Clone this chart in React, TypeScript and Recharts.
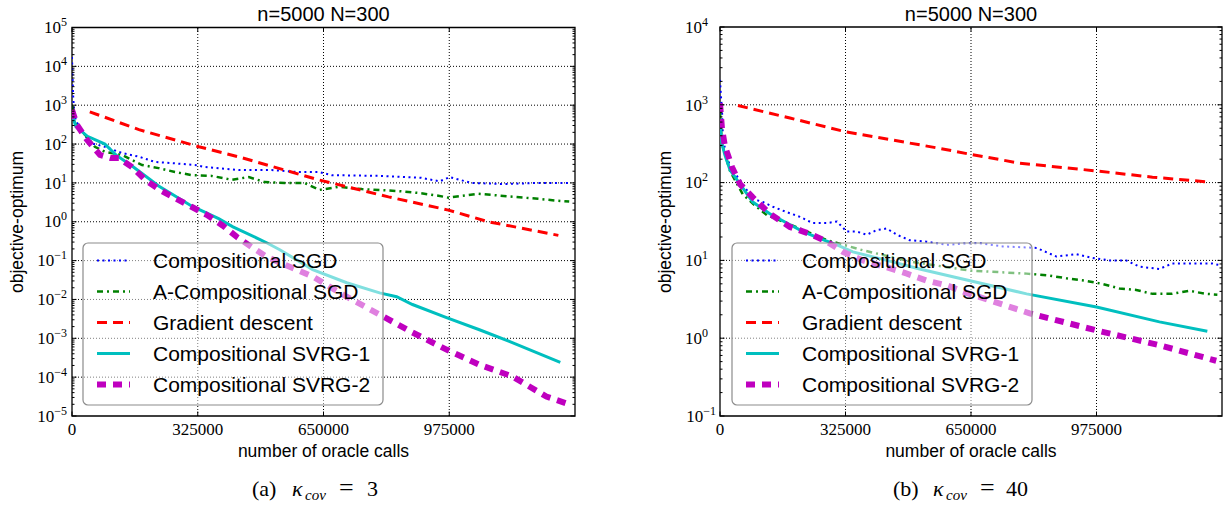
import { LineChart, Line, XAxis, YAxis, ReferenceLine, ReferenceArea } from "recharts";

// each point: [number of oracle calls, log10(objective - optimum)]
type Pt = [number, number];

const seriesNames = [
  "Compositional SGD",
  "A-Compositional SGD",
  "Gradient descent",
  "Compositional SVRG-1",
  "Compositional SVRG-2",
];

// panel (a), kappa_cov = 3
const aCompSgd: Pt[] = [
  [0, 4.24], [2600, 3.3], [5200, 2.9], [10000, 2.6], [46000, 2.03], [85000, 1.93],
  [129000, 1.77], [175000, 1.67], [214000, 1.54], [258000, 1.51], [318000, 1.46],
  [343000, 1.41], [431000, 1.33], [516000, 1.33], [586000, 1.28], [637000, 1.28],
  [671000, 1.2], [800000, 1.18], [903000, 1.13], [950000, 1.04], [976000, 1.15],
  [1032000, 1.0], [1118000, 0.97], [1205000, 1.0], [1290000, 1.0],
];
const aACompSgd: Pt[] = [
  [0, 3.0], [5000, 2.6], [10000, 2.5], [46000, 2.1], [59000, 1.93], [85000, 1.8],
  [129000, 1.72], [181000, 1.46], [224000, 1.38], [266000, 1.28], [310000, 1.2],
  [361000, 1.18], [413000, 1.08], [457000, 1.15], [498000, 1.02], [550000, 1.0],
  [601000, 1.0], [640000, 0.82], [689000, 0.9], [749000, 0.84], [844000, 0.79],
  [896000, 0.74], [947000, 0.67], [973000, 0.62], [1050000, 0.72], [1143000, 0.64],
  [1205000, 0.59], [1257000, 0.54], [1285000, 0.52],
];
const aGradDesc: Pt[] = [
  [46000, 2.83], [173000, 2.37], [328000, 1.93], [431000, 1.67], [637000, 1.08],
  [818000, 0.64], [973000, 0.3], [1076000, 0.0], [1257000, -0.35],
];
const aSvrg1: Pt[] = [
  [0, 2.8], [10000, 2.45], [40000, 2.2], [85000, 2.0], [116000, 1.7], [157000, 1.42],
  [224000, 0.92], [310000, 0.4], [379000, 0.08], [416000, -0.13], [503000, -0.54],
  [537000, -0.72], [622000, -1.23], [710000, -1.57], [795000, -1.83], [839000, -1.93],
  [880000, -2.13], [968000, -2.47], [1053000, -2.78], [1138000, -3.11], [1262000, -3.62],
];
const aSvrg2: Pt[] = [
  [0, 2.88], [12900, 2.49], [38700, 2.11], [72300, 1.72], [100000, 1.64], [121000, 1.64],
  [155000, 1.41], [189000, 1.08], [227000, 0.82], [266000, 0.61], [310000, 0.38],
  [348000, 0.18], [390000, -0.1], [426000, -0.39], [467000, -0.67], [503000, -0.9],
  [537000, -1.05], [622000, -1.41], [710000, -1.93], [795000, -2.39], [880000, -2.85],
  [968000, -3.29], [1053000, -3.68], [1138000, -3.98], [1226000, -4.5], [1285000, -4.7],
];

// panel (b), kappa_cov = 40
const bCompSgd: Pt[] = [
  [0, 3.32], [2600, 3.1], [5200, 2.93], [7800, 2.54], [26000, 2.2], [52000, 2.03],
  [85000, 1.79], [111000, 1.75], [137000, 1.69], [173000, 1.62], [207000, 1.56],
  [240000, 1.48], [277000, 1.48], [303000, 1.5], [328000, 1.37], [354000, 1.37],
  [380000, 1.33], [406000, 1.39], [432000, 1.41], [458000, 1.33], [491000, 1.26],
  [535000, 1.24], [587000, 1.2], [639000, 1.22], [672000, 1.22], [732000, 1.18],
  [820000, 1.16], [871000, 1.05], [923000, 1.08], [965000, 1.03], [1009000, 1.0],
  [1052000, 1.0], [1086000, 0.92], [1138000, 0.89], [1171000, 0.96], [1223000, 0.96],
  [1275000, 0.96], [1293000, 0.94],
];
const bACompSgd: Pt[] = [
  [0, 2.9], [5000, 2.5], [26000, 2.15], [59000, 1.85], [85000, 1.73], [121500, 1.58],
  [173000, 1.48], [225000, 1.37], [277000, 1.26], [370000, 1.13], [499000, 0.98],
  [646000, 0.87], [720000, 0.85], [794000, 0.83], [846000, 0.81], [897000, 0.77],
  [944000, 0.74], [988000, 0.7], [1034000, 0.64], [1078000, 0.62], [1120000, 0.57],
  [1171000, 0.57], [1215000, 0.61], [1259000, 0.57], [1288000, 0.56],
];
const bGradDesc: Pt[] = [
  [46500, 2.99], [181000, 2.83], [328000, 2.65], [569000, 2.44], [652000, 2.36],
  [776000, 2.25], [975000, 2.15], [1120000, 2.07], [1259000, 2.01],
];
const bSvrg1: Pt[] = [
  [0, 2.75], [5000, 2.5], [13000, 2.35], [26000, 2.16], [52000, 1.98], [85000, 1.75],
  [129000, 1.6], [173000, 1.48], [215000, 1.37], [259000, 1.28], [303000, 1.2],
  [344000, 1.11], [432000, 1.0], [517000, 0.89], [603000, 0.79], [794000, 0.57],
  [975000, 0.4], [1138000, 0.21], [1262000, 0.09],
];
const bSvrg2: Pt[] = [
  [0, 3.02], [5000, 2.7], [13000, 2.46], [21000, 2.35], [31000, 2.2], [52000, 1.98],
  [85000, 1.81], [129000, 1.6], [181000, 1.43], [233000, 1.34], [277000, 1.24],
  [318000, 1.11], [370000, 1.0], [432000, 0.91], [484000, 0.83], [535000, 0.74],
  [587000, 0.68], [640000, 0.58], [802000, 0.32], [975000, 0.1], [1138000, -0.09],
  [1285000, -0.29],
];

const xTicks = [0, 325000, 650000, 975000];
const X_MAX = 1300000;
const aYMajor = [1e-5, 1e-4, 1e-3, 1e-2, 1e-1, 1, 10, 100, 1e3, 1e4, 1e5];
const bYMajor = [1e-1, 1, 10, 100, 1e3, 1e4];

const styles = [
  { color: "#0000ff", width: 2, dash: "2 3.5" },
  { color: "#008000", width: 2.5, dash: "6 4 2 4" },
  { color: "#ff0000", width: 3, dash: "10 6" },
  { color: "#00bfbf", width: 3, dash: undefined },
  { color: "#bf00bf", width: 6, dash: "9 7" },
];

const SANS = "'Liberation Sans', Arial, sans-serif";
const SERIF = "'Liberation Serif', 'Times New Roman', serif";
const H = 508;

const toRows = (pts: Pt[]) => pts.map(([x, e]) => ({ x, y: Math.pow(10, e) }));
const minorTicks = (majors: number[]) =>
  majors.slice(0, -1).flatMap((m) => [2, 3, 4, 5, 6, 7, 8, 9].map((k) => k * m));

const YTick = (props: any) => {
  const { x, y, payload, plotW, gap, bottomGap, bottomVal } = props;
  const v = payload.value;
  const exp = Math.round(Math.log10(v));
  const major = Math.abs(v - Math.pow(10, exp)) < v * 1e-6;
  const len = major ? 4.5 : 2.5;
  const g = v === bottomVal ? bottomGap : gap;
  return (
    <g>
      <line x1={x} x2={x + len} y1={y} y2={y} stroke="#000" strokeWidth={1} />
      <line x1={x + plotW} x2={x + plotW - len} y1={y} y2={y} stroke="#000" strokeWidth={1} />
      {major && (
        <text x={x - g} y={y + 5.7} textAnchor="end" fontFamily={SERIF} fontSize={17} fill="#000">
          10
          <tspan dy={-7} fontSize={12}>
            {exp < 0 ? "\u2212" + -exp : String(exp)}
          </tspan>
        </text>
      )}
    </g>
  );
};

const XTick = (props: any) => {
  const { x, y, payload, plotH } = props;
  return (
    <g>
      <line x1={x} x2={x} y1={y} y2={y - 4.5} stroke="#000" />
      <line x1={x} x2={x} y1={y - plotH} y2={y - plotH + 4.5} stroke="#000" />
      <text x={x} y={y + 19} textAnchor="middle" fontFamily={SERIF} fontSize={17} fill="#000">
        {String(payload.value)}
      </text>
    </g>
  );
};

interface PanelProps {
  left: number;
  width: number;
  plot: { top: number; right: number; bottom: number; left: number };
  series: Pt[][];
  yMajor: number[];
  gap: number;
  bottomGap: number;
}

function Panel({ left, width, plot, series, yMajor, gap, bottomGap }: PanelProps) {
  // the axes take 1px each, the rest of the room is margin
  const margin = { top: plot.top, right: plot.right, bottom: plot.bottom - 1, left: plot.left - 1 };
  const plotW = width - plot.left - plot.right;
  const plotH = H - plot.top - plot.bottom;
  const yMin = yMajor[0];
  const yMax = yMajor[yMajor.length - 1];
  const yTicks = [...yMajor, ...minorTicks(yMajor)];
  return (
    <div style={{ position: "absolute", left, top: 0 }}>
      <LineChart width={width} height={H} margin={margin}>
        {xTicks.slice(1).map((v) => (
          <ReferenceLine key={"gx" + v} x={v} stroke="#000" strokeWidth={1} strokeDasharray="1 2" />
        ))}
        {yMajor.slice(1, -1).map((v) => (
          <ReferenceLine key={"gy" + v} y={v} stroke="#000" strokeWidth={1} strokeDasharray="1 2" />
        ))}
        <XAxis
          dataKey="x"
          type="number"
          domain={[0, X_MAX]}
          ticks={xTicks}
          interval={0}
          height={1}
          tickSize={0}
          tickMargin={0}
          tickLine={false}
          axisLine={false}
          allowDataOverflow
          tick={(p: any) => <XTick {...p} plotH={plotH} />}
        />
        <YAxis
          type="number"
          scale="log"
          domain={[yMin, yMax]}
          ticks={yTicks}
          interval={0}
          width={1}
          tickSize={0}
          tickMargin={0}
          tickLine={false}
          axisLine={false}
          allowDataOverflow
          tick={(p: any) => (
            <YTick {...p} plotW={plotW} gap={gap} bottomGap={bottomGap} bottomVal={yMin} />
          )}
        />
        {series.map((pts, i) => (
          <Line
            key={seriesNames[i]}
            data={toRows(pts)}
            dataKey="y"
            type="linear"
            stroke={styles[i].color}
            strokeWidth={styles[i].width}
            strokeDasharray={styles[i].dash}
            dot={false}
            activeDot={false}
            isAnimationActive={false}
          />
        ))}
        <ReferenceArea x1={0} x2={X_MAX} y1={yMin} y2={yMax} fill="none" stroke="#000" strokeWidth={1.3} />
      </LineChart>
    </div>
  );
}

function Legend({ x }: { x: number }) {
  const top = 243;
  return (
    <g>
      <rect x={x} y={top} width={300} height={162} rx={5} fill="#fff" fillOpacity={0.5} stroke="#8c8c8c" strokeWidth={1.2} />
      {seriesNames.map((name, i) => {
        const cy = top + 17.5 + i * 31;
        return (
          <g key={name}>
            <line
              x1={x + 14}
              x2={x + 47}
              y1={cy}
              y2={cy}
              stroke={styles[i].color}
              strokeWidth={styles[i].width}
              strokeDasharray={styles[i].dash}
            />
            <text x={x + 70} y={cy + 7.5} fontFamily={SANS} fontSize={21} fill="#000">
              {name}
            </text>
          </g>
        );
      })}
    </g>
  );
}

function Texts({ plotLeft, plotRight, tag, kappa, sub }: { plotLeft: number; plotRight: number; tag: string; kappa: string; sub: number[] }) {
  const cx = (plotLeft + plotRight) / 2;
  return (
    <g>
      <text x={cx} y={21} textAnchor="middle" fontFamily={SANS} fontSize={20} fill="#000">
        n=5000 N=300
      </text>
      <text x={cx} y={457} textAnchor="middle" fontFamily={SANS} fontSize={17.5} fill="#000">
        number of oracle calls
      </text>
      <text
        transform={`translate(${plotLeft - 49},222) rotate(-90)`}
        textAnchor="middle"
        fontFamily={SANS}
        fontSize={17.5}
        fill="#000"
      >
        objective-optimum
      </text>
      <g fontFamily={SERIF} fill="#000">
        <text x={sub[0]} y={496} fontSize={22}>{tag}</text>
        <text x={sub[1]} y={496} fontSize={22} fontStyle="italic">κ</text>
        <text x={sub[2]} y={500} fontSize={15} fontStyle="italic">cov</text>
        <text x={sub[3]} y={496} fontSize={26}>=</text>
        <text x={sub[4]} y={496} fontSize={22}>{kappa}</text>
      </g>
    </g>
  );
}

export default function App() {
  return (
    <div style={{ position: "absolute", left: 0, top: 0, width: 1228, height: H, background: "#fff" }}>
      <Panel
        left={0}
        width={600}
        plot={{ top: 27.5, right: 25, bottom: 92, left: 72 }}
        series={[aCompSgd, aACompSgd, aGradDesc, aSvrg1, aSvrg2]}
        yMajor={aYMajor}
        gap={5}
        bottomGap={5}
      />
      <Panel
        left={640}
        width={588}
        plot={{ top: 27, right: 6, bottom: 92, left: 80 }}
        series={[bCompSgd, bACompSgd, bGradDesc, bSvrg1, bSvrg2]}
        yMajor={bYMajor}
        gap={12}
        bottomGap={4}
      />
      <svg width={1228} height={H} style={{ position: "absolute", left: 0, top: 0, pointerEvents: "none" }}>
        <Legend x={83} />
        <Legend x={732} />
        <Texts plotLeft={72} plotRight={575} tag="(a)" kappa="3" sub={[252, 292, 305, 339, 367]} />
        <Texts plotLeft={720} plotRight={1222} tag="(b)" kappa="40" sub={[893, 933, 946, 980, 1006]} />
      </svg>
    </div>
  );
}
